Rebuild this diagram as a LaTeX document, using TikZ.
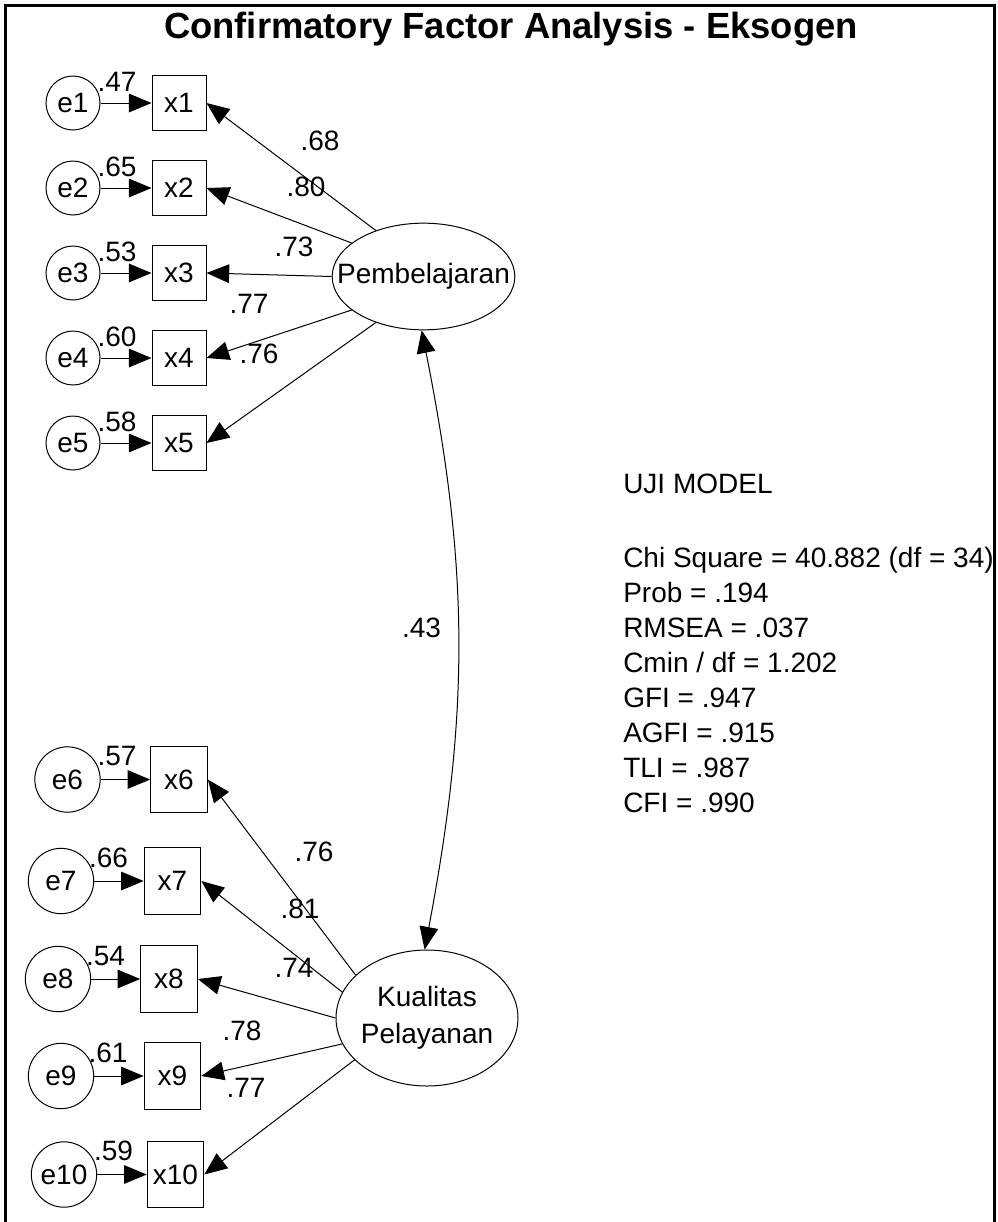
\documentclass[tikz,border=0pt]{standalone}
\usepackage{fontspec}
\setmainfont{Liberation Sans}
\usetikzlibrary{arrows.meta,shapes.geometric}

\tikzset{
  txt/.style={font=\fontsize{21pt}{25pt}\selectfont, inner sep=0pt},
  errc/.style={circle, draw, line width=0.75pt, inner sep=0pt, txt},
  errs/.style={errc, minimum size=40.5pt},
  errl/.style={errc, minimum size=49pt},
  obss/.style={rectangle, draw, line width=0.75pt, inner sep=0pt, txt,
               minimum width=40.5pt, minimum height=41.25pt},
  obsl/.style={rectangle, draw, line width=0.75pt, inner sep=0pt, txt,
               minimum width=42.5pt, minimum height=50pt},
  latent/.style={ellipse, draw, line width=0.75pt, inner sep=0pt, txt, align=center},
  lbl/.style={txt},
  arr/.style={line width=0.75pt, -{Triangle[length=17pt,width=14pt]}},
  darr/.style={line width=0.75pt, {Triangle[length=17pt,width=14pt]}-{Triangle[length=17pt,width=14pt]}},
  frameline/.style={line width=2.25pt}
}

\begin{document}
\begin{tikzpicture}[x=0.75pt,y=-0.75pt]
\useasboundingbox (0,0) rectangle (998,1222);

% open frame and title
\coordinate (fbl) at (5,1222);
\coordinate (ftl) at (5,5);
\coordinate (ftr) at (994,5);
\coordinate (fbr) at (994,1222);
\draw[frameline] (fbl) -- (ftl) -- (ftr) -- (fbr);
\node[anchor=base, inner sep=0pt, font=\fontsize{27.3pt}{32pt}\selectfont\bfseries] (title) at (511,38.5)
  {Confirmatory Factor Analysis - Eksogen};

% latent factors (negative x-sep keeps the ellipse tight around the wide labels)
\node[latent, inner xsep=-17pt, minimum width=137pt, minimum height=80pt] (P) at (423.5,276.5) {Pembelajaran};
\node[latent, inner xsep=-5pt, minimum width=136.5pt, minimum height=102pt,
      font=\fontsize{21pt}{27.75pt}\selectfont] (K) at (427,1018) {Kualitas\\Pelayanan};

% indicators of Pembelajaran
\foreach \i/\y/\v in {1/103/.47, 2/188/.65, 3/273/.53, 4/358/.60, 5/443/.58}{
  \node[errs] (e\i) at (73,\y) {e\i};
  \node[obss] (x\i) at (179,\y) {x\i};
  \node[lbl] (r\i) at (117,\y-21) {\v};
  \draw[arr] (e\i) -- (x\i);
}

% indicators of Kualitas Pelayanan
\foreach \i/\ex/\bx/\y/\lx/\v in {6/67.5/179/779.5/117/.57, 7/61/172.5/881/108.5/.66,
    8/58/169/979/105.5/.54, 9/61/172.5/1076/108/.61, 10/64/175.5/1174.5/113.5/.59}{
  \node[errl] (e\i) at (\ex,\y) {e\i};
  \node[obsl] (x\i) at (\bx,\y) {x\i};
  \node[lbl] (r\i) at (\lx,\y-23.5) {\v};
  \draw[arr] (e\i) -- (x\i);
}

% loadings
\draw[arr] (P.136) -- (x1.east);
\draw[arr] (P.155) -- (x2.east);
\draw[arr] (P.180) -- (x3.east);
\draw[arr] (P.205) -- (x4.east);
\draw[arr] (P.224) -- (x5.east);

\draw[arr] (K.149) -- (x6.east);
\draw[arr] (K.163) -- (x7.east);
\draw[arr] (K.180) -- (x8.east);
\draw[arr] (K.197) -- (x9.east);
\draw[arr] (K.210) -- (x10.east);

\node[lbl] (l1) at (320,141) {.68};
\node[lbl] (l2) at (306,187) {.80};
\node[lbl] (l3) at (294,247) {.73};
\node[lbl] (l4) at (249,304) {.77};
\node[lbl] (l5) at (259,354) {.76};

\node[lbl] (l6) at (314,852) {.76};
\node[lbl] (l7) at (300,909) {.81};
\node[lbl] (l8) at (294,968) {.74};
\node[lbl] (l9) at (242,1031) {.78};
\node[lbl] (l10) at (246,1088) {.77};

% factor correlation
\draw[darr] (P.268) to[bend left=11] (K.92);
\node[lbl] (cor) at (421.5,628) {.43};

% model fit summary
\node[lbl, anchor=base west] (fit0) at (623,493) {UJI MODEL};
\node[lbl, anchor=base west] (fit1) at (623,567) {Chi Square = 40.882 (df = 34)};
\node[lbl, anchor=base west] (fit2) at (623,602) {Prob = .194};
\node[lbl, anchor=base west] (fit3) at (623,637) {RMSEA = .037};
\node[lbl, anchor=base west] (fit4) at (623,672) {Cmin / df = 1.202};
\node[lbl, anchor=base west] (fit5) at (623,707) {GFI = .947};
\node[lbl, anchor=base west] (fit6) at (623,742) {AGFI = .915};
\node[lbl, anchor=base west] (fit7) at (623,777) {TLI = .987};
\node[lbl, anchor=base west] (fit8) at (623,812) {CFI = .990};
\end{tikzpicture}
\end{document}
